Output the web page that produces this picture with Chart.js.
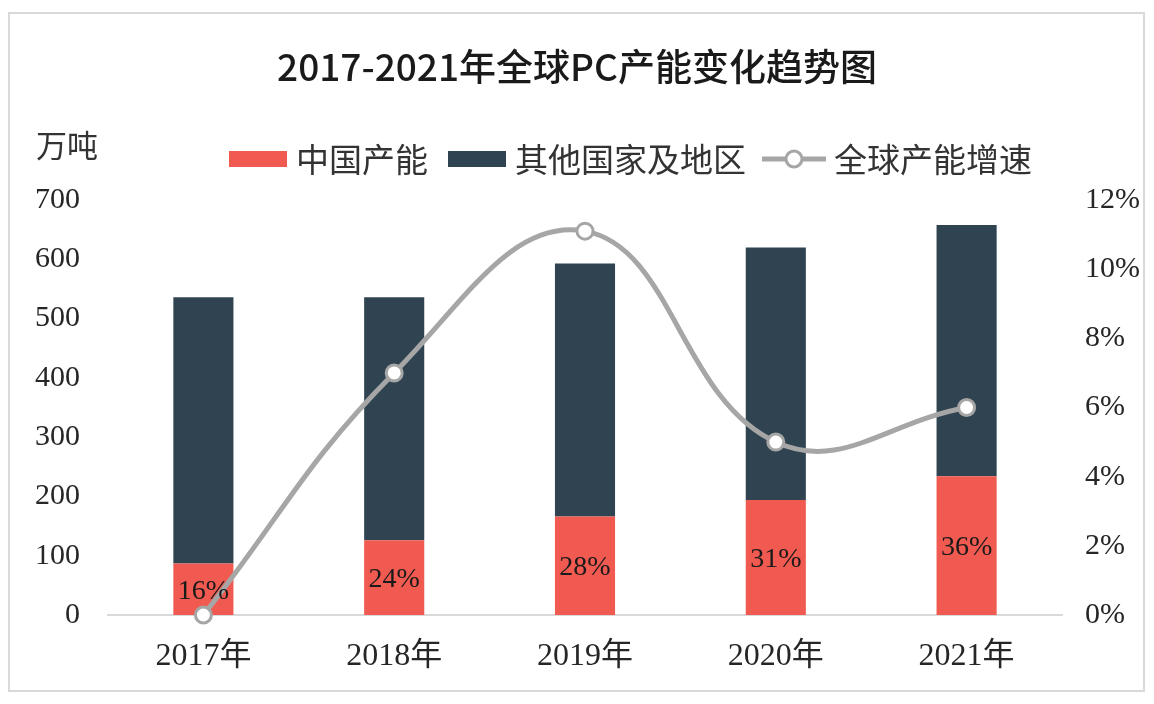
<!DOCTYPE html>
<html>
<head>
<meta charset="utf-8">
<script src="https://cdn.jsdelivr.net/npm/chart.js@4.4.1/dist/chart.umd.min.js"></script>
<style>
  html, body { margin: 0; padding: 0; background: #fff; }
  #wrap { position: relative; width: 1154px; height: 704px; overflow: hidden; background: #fff; }
  #frame { position: absolute; left: 8px; top: 12px; width: 1133px; height: 676px; border: 2px solid #D9D9D9; box-sizing: content-box; }
  canvas { position: absolute; left: 0; top: 0; }
  .txt { position: absolute; white-space: nowrap; color: #262626; font-family: "Liberation Serif", "Noto Sans CJK SC", serif; }
  #title { left: 0; width: 1154px; top: 40px; text-align: center; font-family: "Noto Sans CJK SC", sans-serif; font-weight: 500; font-size: 37px; line-height: 50px; color: #1a1a1a; }
  #unit { left: 36px; top: 124px; font-family: "Noto Sans CJK SC", sans-serif; font-size: 31px; line-height: 40px; color: #333; }
  .legtxt { top: 138px; font-family: "Noto Sans CJK SC", sans-serif; font-size: 33px; line-height: 40px; color: #333; }
  .sw { position: absolute; top: 151px; width: 58px; height: 16px; }
</style>
</head>
<body>
<div id="wrap">
  <div id="frame"></div>
  <canvas id="c" width="1154" height="704"></canvas>
  <div id="title" class="txt">2017-2021年全球PC产能变化趋势图</div>
  <div id="unit" class="txt">万吨</div>
  <div id="leg"></div>
</div>
<script>
const categories = ['2017年', '2018年', '2019年', '2020年', '2021年'];
const chinaCapacity = [87, 126, 166, 194, 234];
const otherCapacity = [449, 410, 427, 426, 424];
const globalGrowth = [0, 7, 11.1, 5, 6];
const chinaShareLabels = ['16%', '24%', '28%', '31%', '36%'];
const leftTicks = [0, 100, 200, 300, 400, 500, 600, 700];
const rightTicks = [0, 2, 4, 6, 8, 10, 12];
const seriesNames = ['中国产能', '其他国家及地区', '全球产能增速'];

const RED = '#F05A50', DARK = '#2F4351', GRAY = '#A6A6A6';
const serif = '"Liberation Serif", "Noto Sans CJK SC", serif';

// legend (HTML)
const leg = document.getElementById('leg');
function addSwatch(x, color) {
  const d = document.createElement('div'); d.className = 'sw';
  d.style.left = x + 'px'; d.style.background = color; leg.appendChild(d);
}
function addText(x, t) {
  const d = document.createElement('div'); d.className = 'txt legtxt';
  d.style.left = x + 'px'; d.textContent = t; leg.appendChild(d);
}
addSwatch(229, RED); addText(296, seriesNames[0]);
addSwatch(448, DARK); addText(515, seriesNames[1]);
(function(){
  const c = document.createElement('canvas'); c.width = 70; c.height = 30;
  c.style.left = '760px'; c.style.top = '144px'; c.style.position = 'absolute';
  const x = c.getContext('2d');
  x.strokeStyle = GRAY; x.lineWidth = 5; x.beginPath(); x.moveTo(2, 15); x.lineTo(66, 15); x.stroke();
  x.fillStyle = '#fff'; x.lineWidth = 3; x.beginPath(); x.arc(34, 15, 8, 0, Math.PI*2); x.fill(); x.stroke();
  leg.appendChild(c);
})();
addText(834, seriesNames[2]);

const barLabelPlugin = {
  id: 'barLabels',
  afterDatasetsDraw(chart) {
    const meta = chart.getDatasetMeta(1);
    const ctx = chart.ctx;
    ctx.save();
    ctx.font = '28px ' + serif;
    ctx.fillStyle = '#1a1a1a';
    ctx.textAlign = 'center';
    ctx.textBaseline = 'middle';
    meta.data.forEach((bar, i) => {
      const p = bar.getProps(['x', 'y', 'base'], true);
      ctx.fillText(chinaShareLabels[i], p.x, (p.y + p.base) / 2 + 2);
    });
    ctx.restore();
  }
};

new Chart(document.getElementById('c'), {
  data: {
    labels: categories,
    datasets: [
      { type: 'line', label: seriesNames[2], data: globalGrowth, yAxisID: 'y1',
        borderColor: GRAY, borderWidth: 5, tension: 0.42, fill: false,
        pointRadius: 8, pointBorderWidth: 3, pointBackgroundColor: '#fff', pointBorderColor: GRAY,
        clip: false, order: 0 },
      { type: 'bar', label: seriesNames[0], data: chinaCapacity, backgroundColor: RED, yAxisID: 'y', order: 2,
        barPercentage: 0.315, categoryPercentage: 1 },
      { type: 'bar', label: seriesNames[1], data: otherCapacity, backgroundColor: DARK, yAxisID: 'y', order: 2,
        barPercentage: 0.315, categoryPercentage: 1 }
    ]
  },
  options: {
    responsive: false,
    animation: false,
    layout: { padding: { top: 200, left: 0, right: 0, bottom: 0 } },
    plugins: { legend: { display: false }, tooltip: { enabled: false }, title: { display: false } },
    scales: {
      x: {
        stacked: true,
        grid: { display: false, drawTicks: false },
        border: { display: true, color: '#D9D9D9', width: 2 },
        ticks: { font: { size: 32, family: serif }, color: '#262626', padding: 22 },
        afterFit(s) { s.height = 89; }
      },
      y: {
        stacked: true, position: 'left', min: 0, max: 700,
        afterBuildTicks(s) { s.ticks = leftTicks.map(v => ({ value: v })); },
        grid: { display: false, drawTicks: false },
        border: { display: false },
        ticks: { font: { size: 30, family: serif }, color: '#262626', padding: 28 },
        afterFit(s) { s.width = 108; }
      },
      y1: {
        position: 'right', min: 0, max: 12,
        afterBuildTicks(s) { s.ticks = rightTicks.map(v => ({ value: v })); },
        grid: { display: false, drawTicks: false },
        border: { display: false },
        ticks: { font: { size: 30, family: serif }, color: '#262626', padding: 23, callback: v => v + '%' },
        afterFit(s) { s.width = 92; }
      }
    }
  },
  plugins: [barLabelPlugin]
});
</script>
</body>
</html>
